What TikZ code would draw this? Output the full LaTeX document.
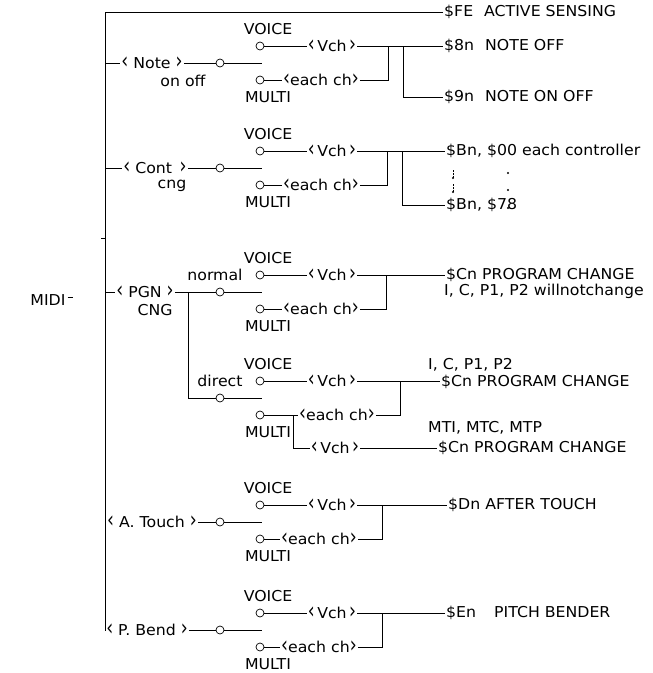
\documentclass[tikz,border=0pt]{standalone}
\usepackage{fontspec}
\setmainfont{DejaVu Sans}[FakeStretch=1.05]
\usepackage{graphicx}
\usepackage{tikz}
\usetikzlibrary{positioning}

\newcommand{\chlt}{\scalebox{1.1}[1.5]{‹}}
\newcommand{\chrt}{\scalebox{1.1}[1.5]{›}}

\tikzset{
  lbl/.style={font=\fontsize{15}{17}\selectfont, inner sep=1pt},
  contact/.style={circle, draw, line width=0.7pt, minimum size=8pt, inner sep=0pt},
  wire/.style={line width=0.8pt},
}

% one VOICE/MULTI selector: #1 name, #2 y of the pole, #3 x where <each ch> starts
\newcommand{\chsw}[3]{%
  \node[contact] (#1p) at (220,#2) {};
  \coordinate (#1b) at (262,#2);
  \node[lbl] (#1voice) at (268,{#2-34}) {VOICE};
  \node[contact] (#1cv) at (260,{#2-17}) {};
  \node[lbl] (#1vch) at (332,{#2-17}) {\chlt\,Vch\,\chrt};
  \node[contact] (#1cm) at (260,{#2+17}) {};
  \node[lbl, anchor=west] (#1each) at (#3,{#2+17}) {\chlt each ch\chrt};
  \node[lbl] (#1multi) at (268,{#2+34}) {MULTI};
  \draw[wire] (#1p) -- (#1b);
  \draw[wire] (#1cv) -- (#1vch);
  \draw[wire] (#1cm) -- (#1each);
}

\begin{document}
\begin{tikzpicture}[x=1pt, y=-1pt]
\useasboundingbox (0,0) rectangle (653,673);

% trunk
\node[lbl] (midi) at (48,300) {MIDI};
\draw[wire] (midi.north east) ++(1,4) -- ++(5,0);
\coordinate (ttop) at (105,12);
\coordinate (tbot) at (105,630);
\coordinate (ttick) at (101,238);
\node[lbl, anchor=west] (fe) at (443,12) {\$FE\hspace{11pt}ACTIVE SENSING};
\draw[wire] (fe.west) -- (ttop) -- (tbot);
\draw[wire] (ttick) -- ++(4,0);

% note on/off
\node[lbl] (note) at (152,63) {\chlt\ Note \chrt};
\node[lbl] (onoff) at (183,81) {on off};
\chsw{n}{63}{282}
\draw[wire] (note.west -| ttop) -- (note.west);
\draw[wire] (note) -- (np);
\node[lbl, anchor=west] (noteoff) at (443,46) {\$8n\hspace{11pt}NOTE OFF};
\node[lbl, anchor=west] (noteon) at (443,97) {\$9n\hspace{11pt}NOTE ON OFF};
\coordinate (nj) at (388,46);
\coordinate (nk) at (403,46);
\draw[wire] (nvch) -- (noteoff.west);
\draw[wire] (neach.east) -| (nj);
\draw[wire] (nk) |- (noteon.west);

% control change
\node[lbl] (cont) at (155,168) {\chlt\ Cont\enspace\chrt};
\node[lbl] (cng) at (172,186) {cng};
\chsw{c}{168}{282}
\draw[wire] (cont.west -| ttop) -- (cont.west);
\draw[wire] (cont) -- (cp);
\node[lbl, anchor=west] (bn0) at (445,151) {\$Bn, \$00 each controller};
\node[lbl, anchor=west] (bn78) at (445,205) {\$Bn, \$78};
\coordinate (cj) at (387,151);
\coordinate (ck) at (402,151);
\draw[wire] (cvch) -- (bn0.west);
\draw[wire] (ceach.east) -| (cj);
\draw[wire] (ck) |- (bn78.west);
\draw[densely dotted] (453,170) -- (453,178) (453,184) -- (453,192);
\foreach \y in {178,192} \fill (453,\y) circle (1.2pt);
\foreach \y in {173,190,208} \fill (508,\y) circle (1.2pt);

% program change
\node[lbl] (pgn) at (145,292) {\chlt\ PGN \chrt};
\node[lbl] (pcng) at (155,310) {CNG};
\coordinate (pk) at (188,292);
\chsw{pn}{292}{282}
\chsw{pd}{398}{298}
\node[lbl] (normal) at (215,275) {normal};
\node[lbl] (direct) at (220,381) {direct};
\draw[wire] (pgn.west -| ttop) -- (pgn.west);
\draw[wire] (pgn) -- (pnp);
\draw[wire] (pk) |- (pdp);

\node[lbl, anchor=west] (pcn1) at (445,275) {\$Cn PROGRAM CHANGE};
\node[lbl, anchor=west] (pwill) at (443,291) {I, C, P1, P2 willnotchange};
\coordinate (pnj) at (386,275);
\draw[wire] (pnvch) -- (pcn1.west);
\draw[wire] (pneach.east) -| (pnj);

\node[lbl, anchor=west] (picp) at (427,365) {I, C, P1, P2};
\node[lbl, anchor=west] (pcn2) at (440,382) {\$Cn PROGRAM CHANGE};
\coordinate (pdj) at (400,381);
\draw[wire] (pdvch) -- (pdvch -| pcn2.west);
\draw[wire] (pdeach.east) -| (pdj);

\coordinate (pdk) at (293,415);
\node[lbl] (pdvch2) at (335,448) {\chlt\,Vch\,\chrt};
\node[lbl, anchor=west] (pmti) at (427,428) {MTI, MTC, MTP};
\node[lbl, anchor=west] (pcn3) at (437,448) {\$Cn PROGRAM CHANGE};
\draw[wire] (pdk) |- (pdvch2.west);
\draw[wire] (pdvch2) -- (pcn3.west);

% after touch
\node[lbl] (atouch) at (152,522) {\chlt\ A. Touch \chrt};
\chsw{a}{522}{280}
\draw[wire] (atouch.west -| ttop) -- (atouch.west);
\draw[wire] (atouch) -- (ap);
\node[lbl, anchor=west] (dn) at (447,505) {\$Dn AFTER TOUCH};
\coordinate (aj) at (382,505);
\draw[wire] (avch) -- (dn.west);
\draw[wire] (aeach.east) -| (aj);

% pitch bend
\node[lbl] (pbend) at (147,630) {\chlt\ P. Bend \chrt};
\chsw{b}{630}{280}
\draw[wire] (tbot) -- (pbend.west);
\draw[wire] (pbend) -- (bp);
\node[lbl, anchor=west] (en) at (445,613) {\$En\hspace{18pt}PITCH BENDER};
\coordinate (bj) at (382,613);
\draw[wire] (bvch) -- (en.west);
\draw[wire] (beach.east) -| (bj);
\end{tikzpicture}
\end{document}
